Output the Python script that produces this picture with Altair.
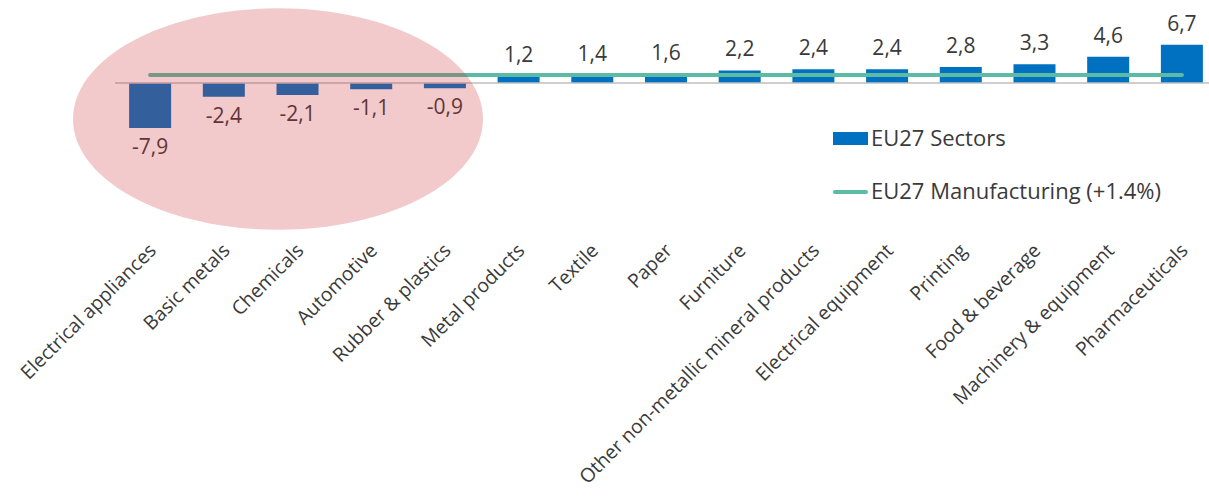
import altair as alt
import pandas as pd

sectors = [
    "Electrical appliances", "Basic metals", "Chemicals", "Automotive",
    "Rubber & plastics", "Metal products", "Textile", "Paper", "Furniture",
    "Other non-metallic mineral products", "Electrical equipment", "Printing",
    "Food & beverage", "Machinery & equipment", "Pharmaceuticals",
]
growth = [-7.9, -2.4, -2.1, -1.1, -0.9, 1.2, 1.4, 1.6, 2.2, 2.4, 2.4, 2.8, 3.3, 4.6, 6.7]
manufacturing = 1.4

legend_labels = ["EU27 Sectors", "EU27 Manufacturing (+1.4%)"]

BAR = "#0070C0"
TEAL = "#5CBBA4"
TXT = "#3A3A3A"
FONT = "Open Sans"

PAD_L, PAD_T = 123, 37.4
W, H = 1086, 102.6

df = pd.DataFrame({"sector": sectors, "growth": growth, "mfg": [manufacturing] * len(sectors)})
df["label"] = [f"{v:.1f}".replace(".", ",") for v in growth]

x = alt.X("sector:N", sort=sectors, title=None,
          scale=alt.Scale(paddingInner=0.43, paddingOuter=0.083),
          axis=alt.Axis(labelAngle=-45, labelAlign="right", labelBaseline="middle",
                        labelPadding=107, ticks=False, tickSize=0, domain=False,
                        labelFont=FONT, labelFontSize=19.4, labelColor=TXT,
                        labelOffset=3, labelLimit=500))
y = alt.Y("growth:Q", title=None, axis=None, scale=alt.Scale(domain=[-10, 8], nice=False, zero=True))

base = alt.Chart(df)

bars = base.mark_bar(color=BAR).encode(x=x, y=y)

zero = alt.Chart(pd.DataFrame({"z": [0]})).mark_rule(color="#BFBFBF", strokeWidth=1.5).encode(
    y=alt.Y("z:Q", scale=alt.Scale(domain=[-10, 8], nice=False), axis=None),
    x=alt.value(-8), x2=alt.value(W))

mline = base.mark_line(color=TEAL, strokeWidth=4, strokeCap="round").encode(
    x=x, y=alt.Y("mfg:Q", axis=None, scale=alt.Scale(domain=[-10, 8], nice=False)))

pos_lbl = base.transform_filter("datum.growth >= 0").mark_text(
    baseline="alphabetic", dy=-14, font=FONT, fontSize=21, color=TXT).encode(
    x=x, y=y, text="label:N")
neg_lbl = base.transform_filter("datum.growth < 0").mark_text(
    baseline="top", dy=9, font=FONT, fontSize=21, color=TXT).encode(
    x=x, y=y, text="label:N")

ellipse = alt.Chart(pd.DataFrame({"e": [0]})).mark_point(
    shape="M -1 0 A 1 0.54 0 1 0 1 0 A 1 0.54 0 1 0 -1 0 Z",
    filled=True, color="#CC2C30", opacity=0.25, strokeWidth=0, size=410 * 410).encode(
    x=alt.value(278 - PAD_L), y=alt.value(119 - PAD_T))

one = pd.DataFrame({"k": [0]})
leg_rect = alt.Chart(one).mark_rect(color=BAR).encode(
    x=alt.value(833 - PAD_L), x2=alt.value(868 - PAD_L),
    y=alt.value(132 - PAD_T), y2=alt.value(145 - PAD_T))
leg_line = alt.Chart(one).mark_rule(color=TEAL, strokeWidth=4, strokeCap="round").encode(
    x=alt.value(835 - PAD_L), x2=alt.value(866 - PAD_L), y=alt.value(192 - PAD_T))
leg_t1 = alt.Chart(one).mark_text(align="left", baseline="middle", font=FONT, fontSize=22, color=TXT).encode(
    x=alt.value(871 - PAD_L), y=alt.value(139 - PAD_T), text=alt.value(legend_labels[0]))
leg_t2 = alt.Chart(one).mark_text(align="left", baseline="middle", font=FONT, fontSize=22, color=TXT).encode(
    x=alt.value(871 - PAD_L), y=alt.value(192 - PAD_T), text=alt.value(legend_labels[1]))

chart = alt.layer(
    bars, zero, mline, pos_lbl, neg_lbl, leg_rect, leg_line, leg_t1, leg_t2, ellipse
).properties(
    width=W, height=H, autosize="none",
    padding={"left": PAD_L, "top": PAD_T, "right": 0, "bottom": 495 - PAD_T - H},
    background="white",
).configure_view(stroke=None)

chart.save("out.html", embed_options={"renderer": "svg", "actions": False})
